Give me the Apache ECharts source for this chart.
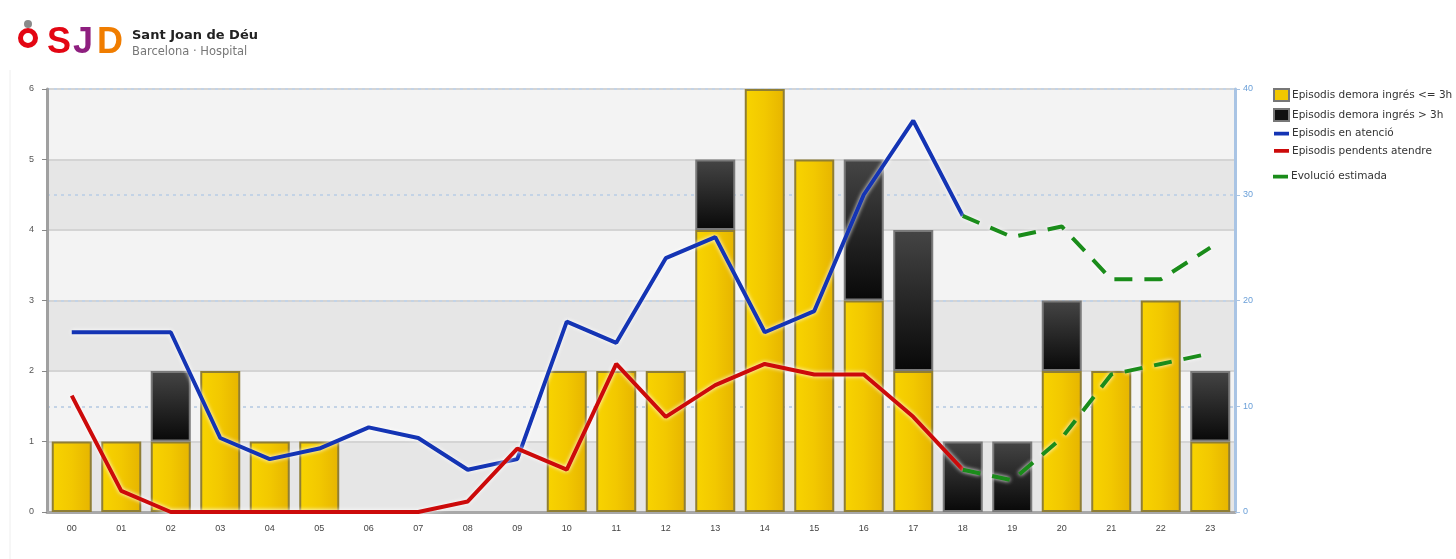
<!DOCTYPE html>
<html>
<head>
<meta charset="utf-8">
<script src="https://cdn.jsdelivr.net/npm/echarts@6/dist/echarts.min.js"></script>
<style>
  html, body { margin: 0; padding: 0; background: #fff; }
  #chart { width: 1456px; height: 559px; }
</style>
</head>
<body>
<div id="chart"></div>
<script>
// Hourly emergency-room activity
const hours = ['00','01','02','03','04','05','06','07','08','09','10','11',
               '12','13','14','15','16','17','18','19','20','21','22','23'];

// Episodes by admission delay (left axis)
const delayUpTo3h = [1,1,1,2,1,1,0,0,0,0,2,2,2,4,6,5,3,2,0,0,2,2,3,1];
const delayOver3h = [0,0,1,0,0,0,0,0,0,0,0,0,0,1,0,0,2,2,1,1,1,0,0,1];

// Episodes in care / pending (right axis), recorded until 18h
const inCare  = [17,17,17,7,5,6,8,7,4,5,18,16,24,26,17,19,30,37,28,null,null,null,null,null];
const pending = [11,2,0,0,0,0,0,0,1,6,4,14,9,12,14,13,13,9,4,null,null,null,null,null];

// Estimated evolution from 18h onwards
const estInCare  = [null,null,null,null,null,null,null,null,null,null,null,null,
                    null,null,null,null,null,null,28,26,27,22,22,25];
const estPending = [null,null,null,null,null,null,null,null,null,null,null,null,
                    null,null,null,null,null,null,4,3,7,13,14,15];

const leftTicks = { min: 0, max: 6, interval: 1 };
const rightTicks = { min: 0, max: 40, interval: 10 };

const FONT = 'Arial, "Liberation Sans", sans-serif';
const WIDE = '"DejaVu Sans", Verdana, sans-serif';
const nz = a => a.map(v => (v === 0 ? null : v));

const yellowFill = new echarts.graphic.LinearGradient(0, 0, 1, 0, [
  { offset: 0, color: '#f8d400' }, { offset: 0.5, color: '#f2c800' }, { offset: 1, color: '#e6b400' }
]);
const blackFill = new echarts.graphic.LinearGradient(0, 0, 0, 1, [
  { offset: 0, color: '#454545' }, { offset: 1, color: '#080808' }
]);
const halo = { shadowColor: 'rgba(255,255,255,1)', shadowBlur: 4 };

const lineIcon = 'path://M0,0M0,12M0,4h16v4H0z';

const chart = echarts.init(document.getElementById('chart'), null, { renderer: 'canvas' });
chart.setOption({
  animation: false,
  textStyle: { fontFamily: FONT },
  grid: { left: 47, right: 221, top: 89, bottom: 47 },
  legend: [{
    orient: 'vertical', left: 1268, top: 83,
    itemWidth: 15, itemHeight: 12, itemGap: 6,
    textStyle: { fontSize: 10.5, color: '#333', fontFamily: WIDE, padding: [0, 0, 0, -2] },
    data: [
      { name: 'Episodis demora ingrés <= 3h', icon: 'rect',
        itemStyle: { color: '#f2c800', borderColor: '#777', borderWidth: 2 } },
      { name: 'Episodis demora ingrés > 3h', icon: 'rect',
        itemStyle: { color: '#111', borderColor: '#777', borderWidth: 2 } },
      { name: 'Episodis en atenció', icon: lineIcon, itemStyle: { color: '#1434b4' } },
      { name: 'Episodis pendents atendre', icon: lineIcon, itemStyle: { color: '#cc0a0a' } }
    ]
  }, {
    orient: 'vertical', left: 1268, top: 166,
    itemWidth: 15, itemHeight: 12,
    textStyle: { fontSize: 10.5, color: '#333', fontFamily: WIDE, padding: [0, 0, 0, -2] },
    data: [{ name: 'Evolució estimada', icon: lineIcon, itemStyle: { color: '#1a8c1a' } }]
  }],
  xAxis: {
    type: 'category', data: hours,
    axisLine: { lineStyle: { color: '#a8a8a8', width: 3 } },
    axisTick: { alignWithLabel: true, length: 5, lineStyle: { color: '#888' } },
    axisLabel: { fontSize: 9, color: '#444', margin: 12 }
  },
  yAxis: [{
    type: 'value', ...leftTicks,
    axisLine: { show: true, lineStyle: { color: '#a0a0a0', width: 3 } },
    axisTick: { show: true, length: 5, lineStyle: { color: '#888' } },
    axisLabel: { fontSize: 9, color: '#555', margin: 13 },
    splitLine: { lineStyle: { color: '#d4d4d4', width: 2 } },
    splitArea: { show: true, areaStyle: { color: ['#e6e6e6', '#f3f3f3'] } }
  }, {
    type: 'value', ...rightTicks, position: 'right',
    axisLine: { show: true, lineStyle: { color: '#a9c4e4', width: 3 } },
    axisTick: { show: true, length: 5, lineStyle: { color: '#a9c4e4' } },
    axisLabel: { fontSize: 9, color: '#6a9fd8', margin: 8 },
    splitLine: { lineStyle: { color: '#c3d3e6', width: 2, type: [3, 4] } }
  }],
  series: [{
    name: 'Episodis demora ingrés <= 3h', type: 'bar', stack: 'ep', barWidth: 40,
    data: nz(delayUpTo3h),
    itemStyle: { color: yellowFill, borderColor: '#8f7e34', borderWidth: 2 }
  }, {
    name: 'Episodis demora ingrés > 3h', type: 'bar', stack: 'ep', barWidth: 40,
    data: nz(delayOver3h),
    itemStyle: { color: blackFill, borderColor: '#7a7a7a', borderWidth: 2 }
  }, {
    name: 'Episodis en atenció', type: 'line', yAxisIndex: 1, data: inCare,
    showSymbol: false, z: 5,
    lineStyle: { color: '#1434b4', width: 4, ...halo }, itemStyle: { color: '#1434b4' }
  }, {
    name: 'Episodis pendents atendre', type: 'line', yAxisIndex: 1, data: pending,
    showSymbol: false, z: 5,
    lineStyle: { color: '#cc0a0a', width: 4, ...halo }, itemStyle: { color: '#cc0a0a' }
  }, {
    name: 'Evolució estimada', type: 'line', yAxisIndex: 1, data: estInCare,
    showSymbol: false, z: 5,
    lineStyle: { color: '#1a8c1a', width: 4, type: [18, 12], ...halo }, itemStyle: { color: '#1a8c1a' }
  }, {
    name: 'Evolució estimada', type: 'line', yAxisIndex: 1, data: estPending,
    showSymbol: false, z: 5,
    lineStyle: { color: '#1a8c1a', width: 4, type: [18, 12], ...halo }, itemStyle: { color: '#1a8c1a' }
  }],
  graphic: [
    // panel edge
    { type: 'line', shape: { x1: 10, y1: 70, x2: 10, y2: 559 }, style: { stroke: '#eeeeee', lineWidth: 1 } },
    // hospital emblem
    { type: 'circle', shape: { cx: 28, cy: 38, r: 7.5 }, style: { fill: 'none', stroke: '#e30613', lineWidth: 5 } },
    { type: 'circle', shape: { cx: 28, cy: 24, r: 4 }, style: { fill: '#8a8a8a' } },
    { type: 'text', left: 47, top: 25, style: { text: 'S', fill: '#e30613', font: 'bold 36px ' + FONT } },
    { type: 'text', left: 73, top: 25, style: { text: 'J', fill: '#8e1f7f', font: 'bold 36px ' + FONT } },
    { type: 'text', left: 97, top: 25, style: { text: 'D', fill: '#f07d00', font: 'bold 36px ' + FONT } },
    { type: 'text', left: 132, top: 29, style: { text: 'Sant Joan de Déu', fill: '#222', font: 'bold 13px ' + WIDE } },
    { type: 'text', left: 132, top: 46, style: { text: 'Barcelona · Hospital', fill: '#777', font: '11.5px ' + WIDE } }
  ]
});
</script>
</body>
</html>
